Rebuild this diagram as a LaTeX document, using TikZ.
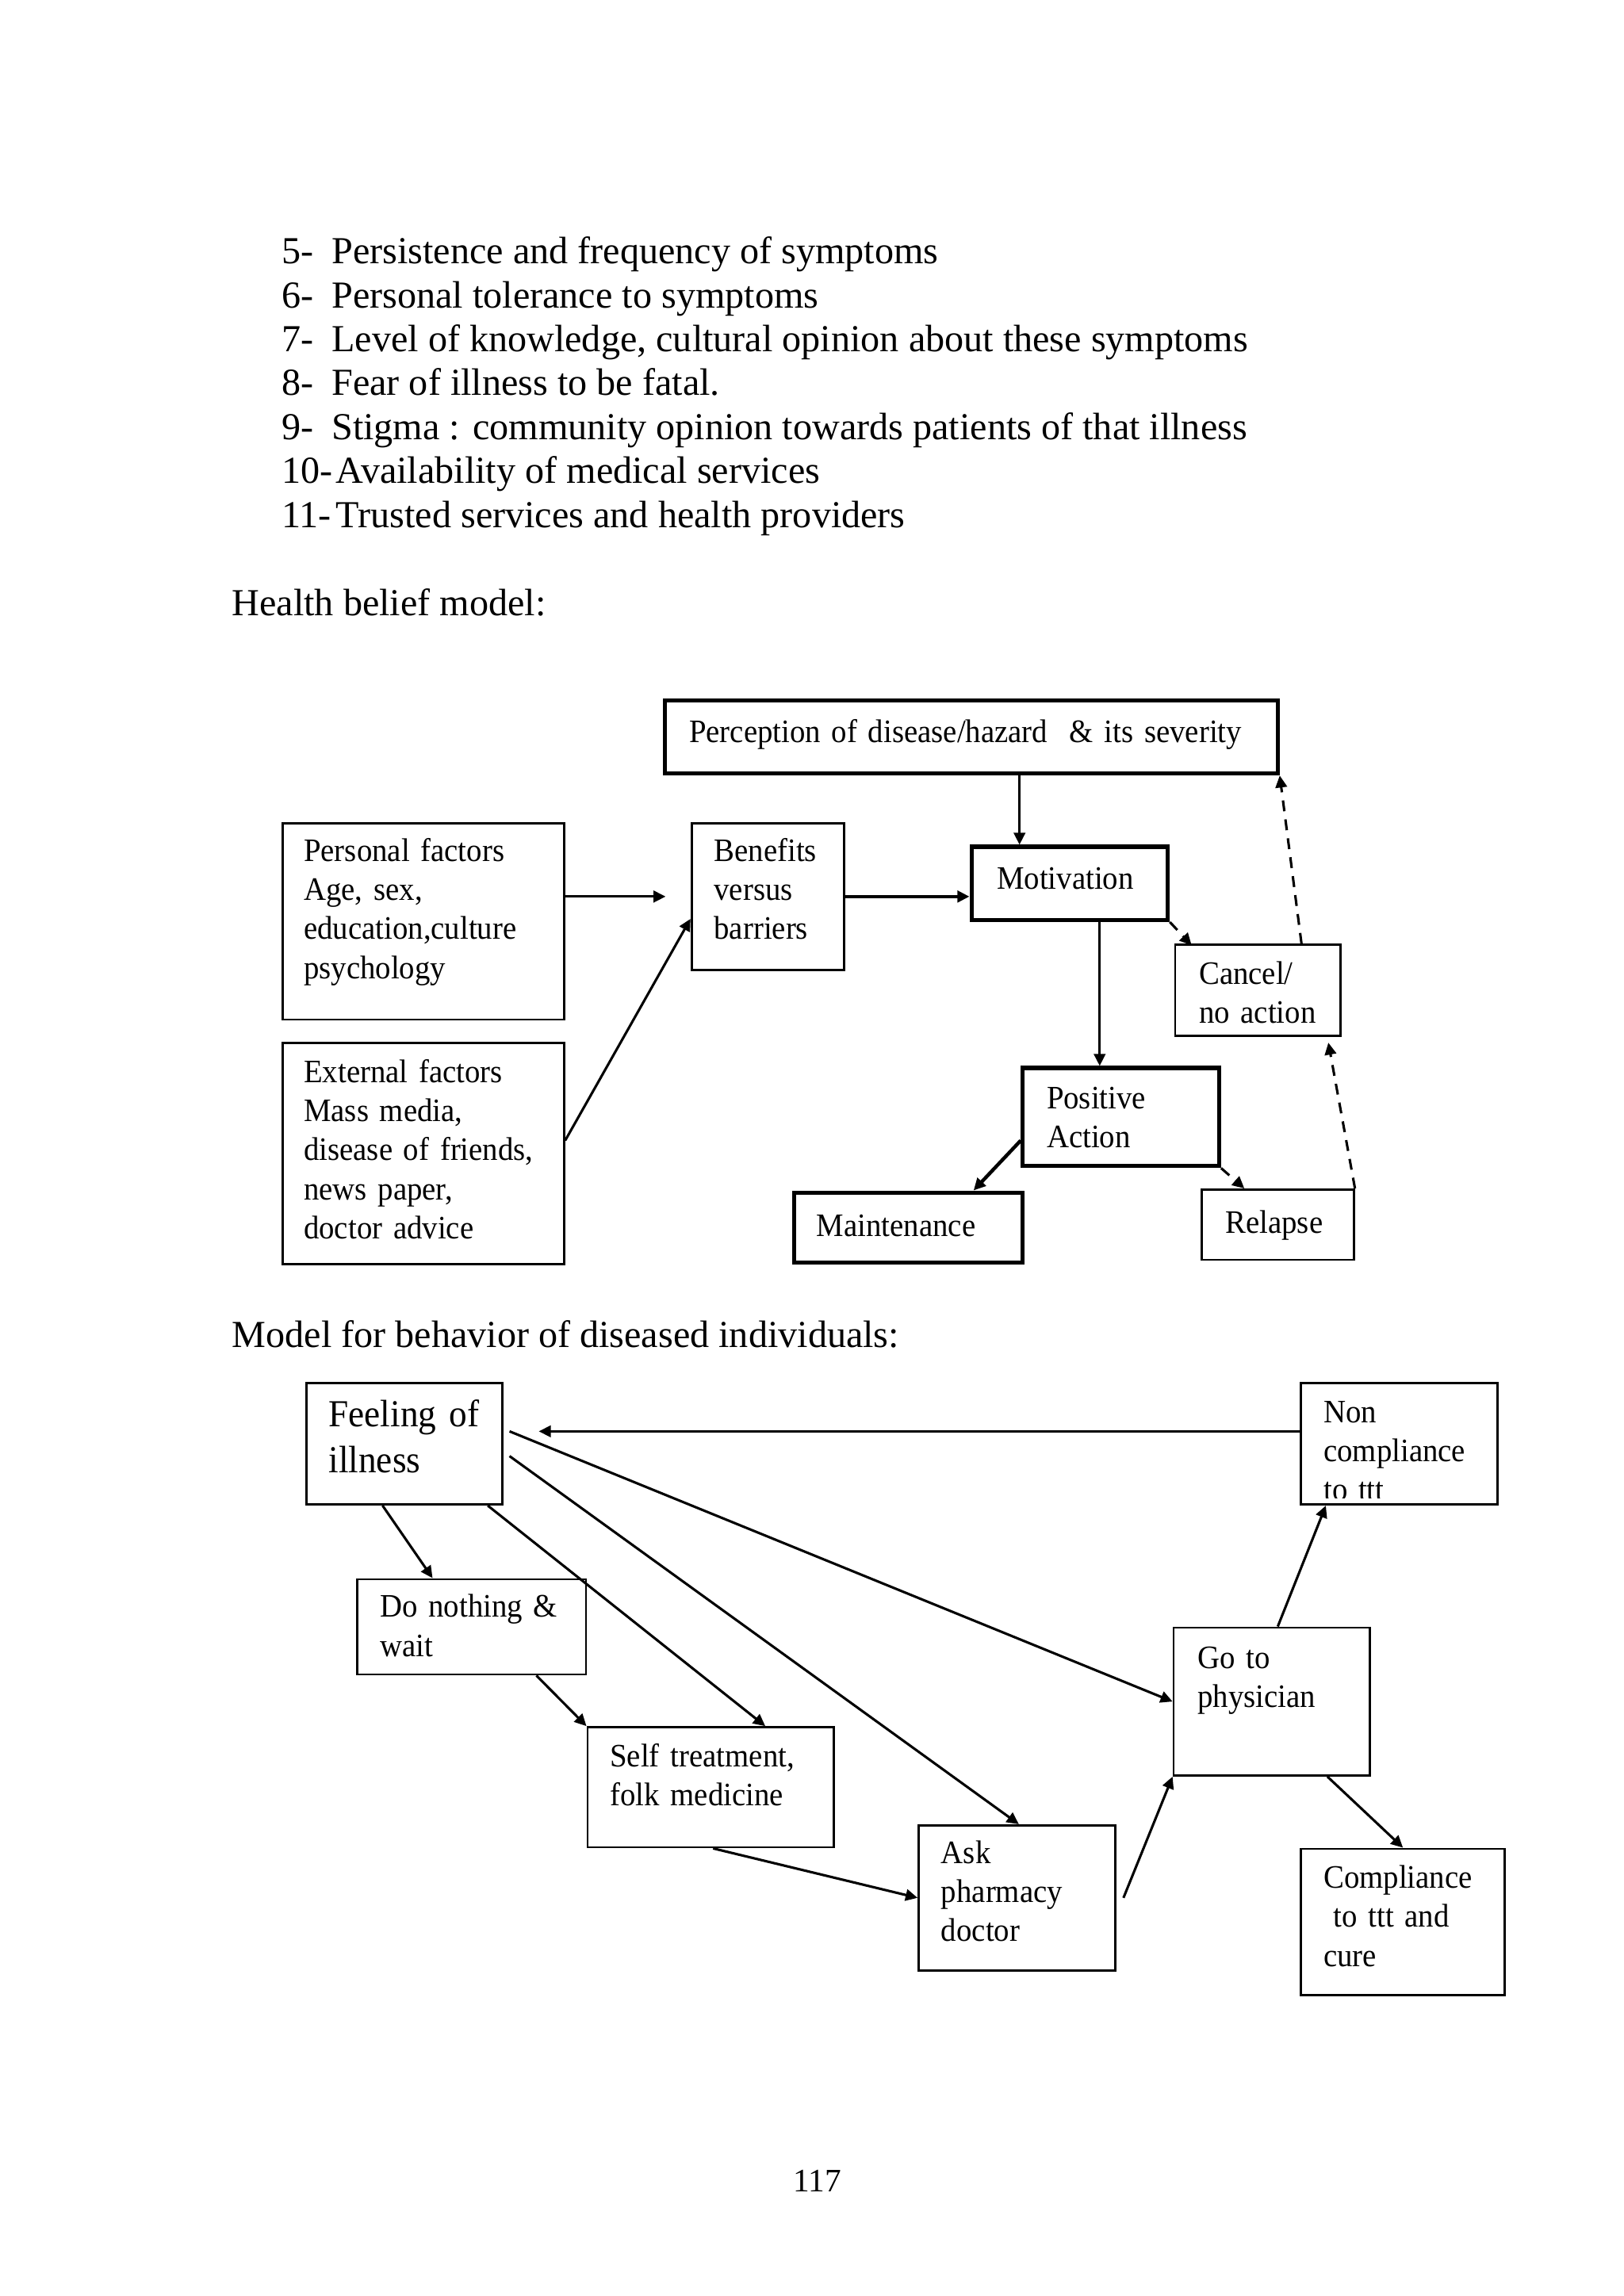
\documentclass[tikz,border=0pt]{standalone}
\usepackage{fontspec}
\setmainfont{Liberation Serif}
\newfontfamily\boxfont[FakeStretch=0.94,WordSpace=1.45]{Liberation Serif}
\usetikzlibrary{arrows.meta,calc,fit}
\tikzset{
    box/.style={draw,line width=0.8pt,inner sep=0pt},
    thickbox/.style={box,line width=1.5pt},
    txt/.style={anchor=base west,inner sep=0pt,text width=4cm,align=left,font=\boxfont\fontsize{12}{14.3}\selectfont},
    bigtxt/.style={anchor=base west,inner sep=0pt,font=\fontsize{14}{16.8}\selectfont},
    arr/.style={-{Triangle[length=4.4pt,width=4.2pt]},line width=0.9pt},
    darr/.style={arr,dash pattern=on 4pt off 3pt},
}
\begin{document}
\begin{tikzpicture}[x=0.5371pt,y=-0.5371pt]
        \useasboundingbox[fill=white] (0,0) rectangle (1108.3,1567.3);
        \node[bigtxt] (n5) at (192,180) {5-};
        \node[bigtxt] (i5) at (226,180) {Persistence and frequency of symptoms};
        \node[bigtxt] (n6) at (192,210) {6-};
        \node[bigtxt] (i6) at (226,210) {Personal tolerance to symptoms};
        \node[bigtxt] (n7) at (192,240) {7-};
        \node[bigtxt] (i7) at (226,240) {Level of knowledge, cultural opinion about these symptoms};
        \node[bigtxt] (n8) at (192,270) {8-};
        \node[bigtxt] (i8) at (226,270) {Fear of illness to be fatal.};
        \node[bigtxt] (n9) at (192,300) {9-};
        \node[bigtxt] (i9) at (226,300) {Stigma : community opinion towards patients of that illness};
        \node[bigtxt] (n10) at (192,330) {10-};
        \node[bigtxt] (i10) at (229,330) {Availability of medical services};
        \node[bigtxt] (n11) at (192,360) {11-};
        \node[bigtxt] (i11) at (229,360) {Trusted services and health providers};
        \node[bigtxt] (hbm) at (158,420) {Health belief model:};

        \node[thickbox,fit={(454,478) (872,528)}] (perc) {};
        \node[txt,text width=8cm] (perctxt) at (470,507) {Perception of disease/hazard\ \ \& its severity};
        \node[box,fit={(193,562) (385,696)}] (pers) {};
        \node[txt] (perstxt) at (207,588) {Personal factors\\Age, sex,\\education,culture\\psychology};
        \node[box,fit={(193,712) (385,863)}] (ext) {};
        \node[txt] (exttxt) at (207,739) {External factors\\Mass media,\\disease of friends,\\news paper,\\doctor advice};
        \node[box,fit={(472,562) (576,662)}] (ben) {};
        \node[txt] (bentxt) at (487,588) {Benefits\\versus\\barriers};
        \node[thickbox,fit={(663,578) (797,628)}] (motiv) {};
        \node[txt] (motivtxt) at (680,607) {Motivation};
        \node[box,fit={(802,645) (915,707)}] (canc) {};
        \node[txt] (canctxt) at (818,672) {Cancel/\\no action};
        \node[thickbox,fit={(698,729) (832,796)}] (pos) {};
        \node[txt] (postxt) at (714,757) {Positive\\Action};
        \node[thickbox,fit={(542,814) (698,862)}] (maint) {};
        \node[txt] (mainttxt) at (557,844) {Maintenance};
        \node[box,fit={(820,812) (924,860)}] (rel) {};
        \node[txt] (reltxt) at (836,842) {Relapse};

        \coordinate (mtop) at ($(motiv.north west)!0.25!(motiv.north east)$);
        \coordinate (mbot) at ($(motiv.south west)!0.65!(motiv.south east)$);
        \draw[arr] (pers.east |- ben.west) -- ($(ben.west)+(-17,0)$);
        \draw[arr] ($(ext.east)+(0,-9)$) -- ($(ben.north west)!0.65!(ben.south west)$);
        \draw[arr,line width=1.3pt] (ben.east) -- (motiv.west |- ben.east);
        \draw[arr] (perc.south -| mtop) -- (mtop);
        \draw[arr] (mbot) -- (mbot |- pos.north);
        \draw[darr] (motiv.south east) -- ($(canc.north west)+(12,1)$);
        \draw[darr] ($(canc.north west)!0.76!(canc.north east)$) -- (perc.south east);
        \draw[darr] (rel.north east) -- ($(canc.south west)!0.92!(canc.south east)+(0,4)$);
        \draw[darr] (pos.south east) -- ($(rel.north west)+(30,0)$);
        \draw[arr,line width=1.3pt] ($(pos.north west)!0.73!(pos.south west)$) -- ($(maint.north west)!0.78!(maint.north east)$);

        \node[bigtxt] (mbd) at (158,920) {Model for behavior of diseased individuals:};

        \node[box,fit={(209,944) (343,1027)}] (feel) {};
        \node[txt,font=\boxfont\fontsize{14}{16.8}\selectfont] (feeltxt) at (224,974) {Feeling of\\illness};
        \node[box,fit={(888,944) (1022,1027)}] (nonc) {};
        \begin{scope}
            \clip (nonc.north west) rectangle ($(nonc.south east)+(0,-5)$);
            \node[txt] (nonctxt) at (903,971) {Non\\compliance\\to ttt};
        \end{scope}
        \node[box,fit={(244,1078) (400,1143)}] (do) {};
        \node[txt] (dotxt) at (259,1104) {Do nothing \&\\wait};
        \node[box,fit={(401,1179) (569,1261)}] (self) {};
        \node[txt] (selftxt) at (416,1206) {Self treatment,\\folk medicine};
        \node[box,fit={(627,1246) (761,1345)}] (ask) {};
        \node[txt] (asktxt) at (642,1272) {Ask\\pharmacy\\doctor};
        \node[box,fit={(801,1111) (935,1212)}] (go) {};
        \node[txt] (gotxt) at (817,1139) {Go to\\physician};
        \node[box,fit={(888,1262) (1027,1362)}] (comp) {};
        \node[txt] (comptxt) at (903,1289) {Compliance\\\hspace*{0.3em}to ttt and\\cure};

        \draw[arr] ($(nonc.north west)!0.4!(nonc.south west)$) -- ($(feel.north east)!0.4!(feel.south east)+(24,0)$);
        \draw[arr] ($(feel.north east)!0.4!(feel.south east)+(4,0)$) -- ($(go.north west)!0.5!(go.south west)$);
        \draw[arr] ($(feel.north east)!0.6!(feel.south east)+(4,0)$) -- ($(ask.north west)!0.51!(ask.north east)$);
        \draw[arr] ($(feel.south west)!0.92!(feel.south east)$) -- ($(self.north west)!0.72!(self.north east)$);
        \draw[arr] ($(feel.south west)!0.39!(feel.south east)$) -- ($(do.north west)!0.33!(do.north east)$);
        \draw[arr] ($(do.south west)!0.78!(do.south east)$) -- (self.north west);
        \draw[arr] ($(self.south west)!0.51!(self.south east)$) -- ($(ask.north west)!0.5!(ask.south west)$);
        \draw[arr] ($(ask.north east)!0.5!(ask.south east)+(5,0)$) -- (go.south west);
        \draw[arr] ($(go.north west)!0.53!(go.north east)$) -- ($(nonc.south west)!0.13!(nonc.south east)$);
        \draw[arr] ($(go.south west)!0.78!(go.south east)$) -- ($(comp.north west)!0.5!(comp.north east)$);

        \node[bigtxt,font=\fontsize{12}{14.3}\selectfont] (page) at (541,1496) {117};
\end{tikzpicture}
\end{document}
